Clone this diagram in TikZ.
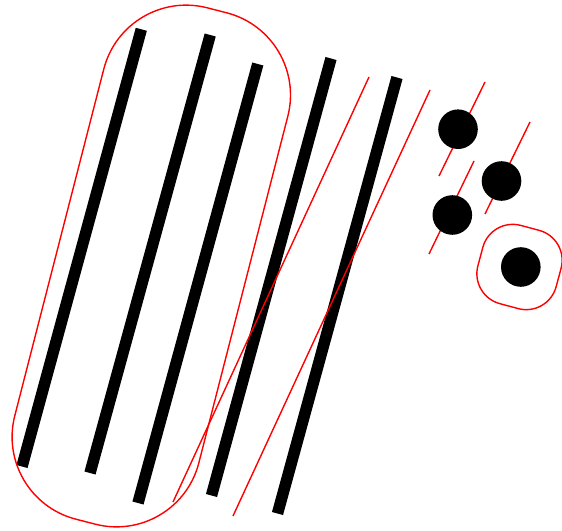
\documentclass[tikz,border=0pt]{standalone}
\begin{document}
\begin{tikzpicture}[x=1pt,y=-1pt,
  bar/.style={line width=11.5pt,black},
  redline/.style={line width=1.4pt,red},
  dot/.style={fill=black}]
\useasboundingbox (0,0) rectangle (562,530);
% thick bars
\draw[bar] (22,466.5) -- (141.3,29.3);
\draw[bar] (90,473) -- (210.2,35);
\draw[bar] (138,503) -- (257.8,64);
\draw[bar] (211.5,495.5) -- (331,58.5);
\draw[bar] (277.5,513.5) -- (397,77.5);
% thin red lines
\draw[redline] (173,502) -- (369,77);
\draw[redline] (233,516) -- (430,90);
\draw[redline] (439,176) -- (485,82);
\draw[redline] (429,254) -- (474,161);
\draw[redline] (485,214) -- (530,122);
% dots
\fill[dot] (458,129.2) circle (19.8pt);
\fill[dot] (501.5,181) circle (19.8pt);
\fill[dot] (452.3,215) circle (19.8pt);
\fill[dot] (520.8,267) circle (19.8pt);
% red rounded enclosures
\begin{scope}[shift={(151.3,266)},rotate=-14.4]
  \draw[redline,rounded corners=85pt] (-95,-264) rectangle (95,264);
\end{scope}
\begin{scope}[shift={(519.5,267)},rotate=-15]
  \draw[redline,rounded corners=31pt] (-40.5,-40.5) rectangle (40.5,40.5);
\end{scope}
\end{tikzpicture}
\end{document}
